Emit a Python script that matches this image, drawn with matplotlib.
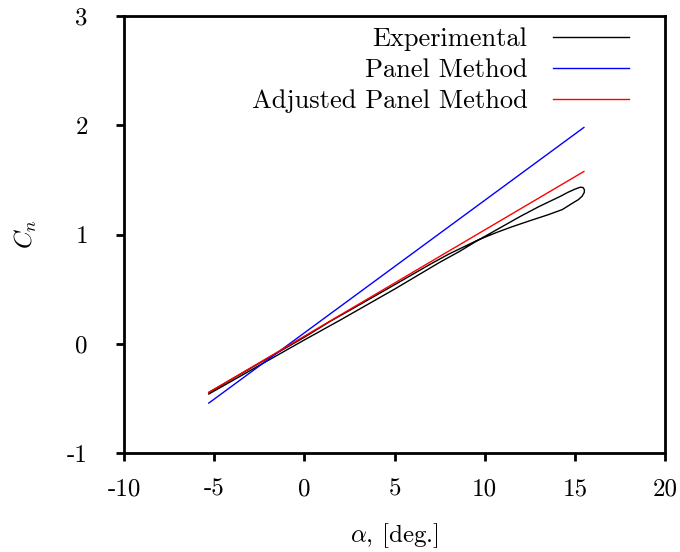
import matplotlib
matplotlib.use('agg')
import matplotlib.pyplot as plt

plt.rcParams['font.family'] = 'cmr10'
plt.rcParams['mathtext.fontset'] = 'cm'
plt.rcParams['axes.unicode_minus'] = False

# Panel method and adjusted panel method, straight lines over the alpha sweep
alpha_fit = [-5.3, 15.5]
cn_panel = [-0.543, 1.98]
cn_adjusted = [-0.446, 1.577]

# Experimental hysteresis loop: pitch-up stroke then pitch-down stroke
alpha_exp = [-5.3, -3.0, 0.0, 2.0, 5.0, 7.5, 8.6, 9.5, 10.0, 11.0, 12.0, 13.0,
             14.2, 14.6, 15.0, 15.3, 15.45, 15.53, 15.52, 15.4, 15.2, 14.9,
             14.3, 13.5, 12.5, 11.5, 10.68, 10.0, 9.5, 9.0, 8.0, 7.0, 6.0, 5.0,
             3.0, 1.43, 0.0, -2.0, -5.3]
cn_exp = [-0.46, -0.245, 0.035, 0.218, 0.5, 0.745, 0.845, 0.935, 0.982,
          1.075, 1.168, 1.255, 1.35, 1.385, 1.415, 1.433, 1.43, 1.41, 1.385,
          1.35, 1.32, 1.29, 1.228, 1.18, 1.126, 1.07, 1.02, 0.975, 0.94,
          0.9, 0.82, 0.73, 0.635, 0.54, 0.352, 0.205, 0.06, -0.13, -0.445]

xticks = [-10, -5, 0, 5, 10, 15, 20]
yticks = [-1, 0, 1, 2, 3]

fig = plt.figure(figsize=(6.8, 5.52), dpi=100)
ax = fig.add_axes([0.1824, 0.1793, 0.7956, 0.7917])

ax.plot(alpha_exp, cn_exp, color='black', lw=1.0, label='Experimental')
ax.plot(alpha_fit, cn_panel, color='blue', lw=1.0, label='Panel Method')
ax.plot(alpha_fit, cn_adjusted, color='red', lw=1.0, label='Adjusted Panel Method')

ax.set_xlim(-10, 20)
ax.set_ylim(-1, 3)
ax.set_xticks(xticks)
ax.set_xticklabels([str(t) for t in xticks])
ax.set_yticks(yticks)
ax.set_yticklabels([str(t) for t in yticks])

for s in ax.spines.values():
    s.set_linewidth(2.0)
ax.tick_params(axis='both', direction='out', length=6, width=2.0, labelsize=18)
ax.tick_params(axis='y', pad=20)
ax.tick_params(axis='x', pad=12)

ax.set_xlabel(r'$\alpha$, [deg.]', fontsize=18, labelpad=15)
ax.set_ylabel(r'$C_n$', fontsize=18, labelpad=20)

ax.legend(loc='upper right', bbox_to_anchor=(0.9335, 0.974), frameon=False,
          markerfirst=False, fontsize=19, handlelength=2.9, handletextpad=0.95,
          labelspacing=0.28, borderpad=0, borderaxespad=0)

fig.savefig('out.png', dpi=100)
